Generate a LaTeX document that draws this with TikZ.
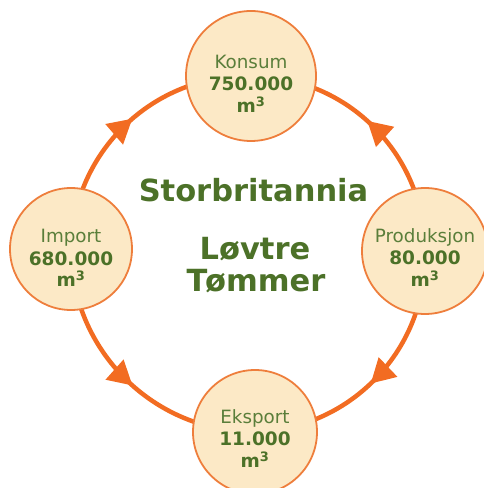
\documentclass[tikz,border=0pt]{standalone}
\usepackage{fontspec}
\setmainfont{DejaVu Sans}
\usetikzlibrary{arrows.meta,decorations.markings,calc,backgrounds}
\definecolor{ringorange}{HTML}{F26C22}
\definecolor{circborder}{HTML}{EE7E3C}
\definecolor{circfill}{HTML}{FCE9C6}
\definecolor{txtgreen}{HTML}{4C7128}
\definecolor{lblgreen}{HTML}{5A7E3A}
\tikzset{
  bubble/.style={circle, draw=circborder, line width=1.8pt, fill=circfill, inner sep=0pt},
  lbl/.style={anchor=base, text=lblgreen, font=\fontsize{18.3}{20}\selectfont, inner sep=0pt},
  num/.style={anchor=base, text=txtgreen, font=\fontsize{18.5}{20}\selectfont\bfseries, inner sep=0pt},
  title/.style={anchor=base, text=txtgreen, font=\fontsize{30.5}{34}\selectfont\bfseries, inner sep=0pt},
  flow/.style={draw=ringorange, line width=4.5pt,
    postaction={decorate, decoration={markings,
      mark=at position 0.535 with {\arrow[ringorange]{Triangle[length=24pt,width=26pt]}}}}}
}
\begin{document}
\begin{tikzpicture}[x=1pt,y=1pt]
\useasboundingbox (0,0) rectangle (484,488);
\node[bubble, minimum size=130pt] (kon) at (251,412) {};
\node[bubble, minimum size=126pt] (prod) at (425,237) {};
\node[bubble, minimum size=124pt] (eks) at (255,56) {};
\node[bubble, minimum size=122pt] (imp) at (71,239) {};
% texts
\node[lbl] (konA) at ($(kon)+(0,7)$) {Konsum};
\node[num] (konB) at ($(kon)+(0,-15)$) {750.000};
\node[num] (konC) at ($(kon)+(0,-37)$) {m\textsuperscript{3}};
\node[lbl] (prodA) at ($(prod)+(0,8)$) {Produksjon};
\node[num] (prodB) at ($(prod)+(0,-14)$) {80.000};
\node[num] (prodC) at ($(prod)+(0,-36)$) {m\textsuperscript{3}};
\node[lbl] (eksA) at ($(eks)+(0,8)$) {Eksport};
\node[num] (eksB) at ($(eks)+(0,-14)$) {11.000};
\node[num] (eksC) at ($(eks)+(0,-36)$) {m\textsuperscript{3}};
\node[lbl] (impA) at ($(imp)+(0,6)$) {Import};
\node[num] (impB) at ($(imp)+(0,-17)$) {680.000};
\node[num] (impC) at ($(imp)+(0,-38)$) {m\textsuperscript{3}};
\node[title] (t1) at (253.5,286) {Storbritannia};
\node[title] (t2) at (255,228) {Løvtre};
\node[title] (t3) at (256,196) {Tømmer};
% flows
\begin{scope}[on background layer]
\draw[flow] (imp.center) to[bend left=45] (kon.center);
\draw[flow] (prod.center) to[bend right=45] (kon.center);
\draw[flow] (prod.center) to[bend left=45] (eks.center);
\draw[flow] (imp.center) to[bend right=45] (eks.center);
\end{scope}
\end{tikzpicture}
\end{document}
